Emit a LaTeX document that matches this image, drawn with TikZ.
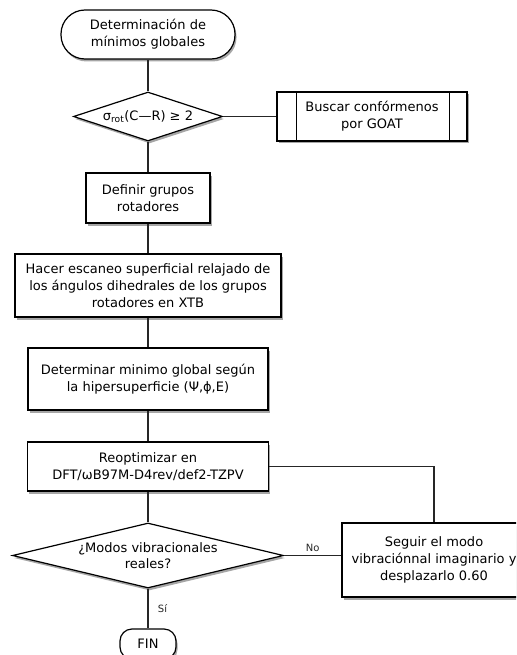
\documentclass[tikz,border=0pt]{standalone}
\usepackage{fontspec}
\setmainfont{DejaVu Sans}
\usetikzlibrary{shapes.geometric,shadows}

\begin{document}
\begin{tikzpicture}[x=1pt, y=-1pt,
    every node/.style={font=\fontsize{13}{16.7}\selectfont, align=center},
    sombra/.style={drop shadow={shadow xshift=1.5pt, shadow yshift=-2.5pt, fill=black!50, opacity=0.7}},
    caja/.style={draw, line width=1.2pt, fill=white, sombra, inner sep=2pt},
    terminal/.style={caja, rounded corners=#1},
    rombo/.style={draw, line width=1.2pt, fill=white, sombra, diamond, inner sep=0pt},
    linea/.style={line width=1.2pt, black!85},
    etiqueta/.style={font=\fontsize{10}{12}\selectfont}]
            \clip (0, 0) rectangle (516, 655);

            \node[terminal=24pt, minimum width=174pt, minimum height=49pt] (inicio) at (148, 34.5) {Determinación de\\mínimos globales};
            \node[rombo, aspect=3, minimum width=149pt, minimum height=49pt] (rot) at (148, 116.5) {σ\textsubscript{rot}(C—R) ≥ 2};
            \node[caja, minimum width=190pt, minimum height=49pt] (goat) at (372, 116.5) {Buscar confórmenos\\por GOAT};
            \draw[line width=1.2pt] ([xshift=20pt]goat.north west) -- ([xshift=20pt]goat.south west);
            \draw[line width=1.2pt] ([xshift=-18pt]goat.north east) -- ([xshift=-18pt]goat.south east);
            \node[caja, minimum width=124pt, minimum height=50pt] (grupos) at (148, 198) {Definir grupos\\rotadores};
            \node[caja, minimum width=266pt, minimum height=63pt] (escaneo) at (148, 285.5) {Hacer escaneo superficial relajado de\\los ángulos dihedrales de los grupos\\rotadores en XTB};
            \node[caja, minimum width=240pt, minimum height=62pt] (minimo) at (148, 379) {Determinar minimo global según\\la hipersuperficie (Ψ,ϕ,E)};
            \node[caja, minimum width=241pt, minimum height=49pt] (reopt) at (148, 466.5) {Reoptimizar en\\DFT/ωB97M-D4rev/def2-TZPV};
            \node[rombo, aspect=4.17, minimum width=271pt, minimum height=65pt] (modos) at (148, 555.5) {¿Modos vibracionales\\reales?};
            \node[caja, minimum width=184pt, minimum height=74pt] (seguir) at (434, 560) {Seguir el modo\\vibraciónnal imaginario y\\desplazarlo 0.60};
            \node[terminal=12pt, minimum width=56pt, minimum height=30pt] (fin) at (148, 644) {FIN};

            \draw[linea] (inicio) -- (rot);
            \draw[linea] (rot) -- (goat);
            \draw[linea] (rot) -- (grupos);
            \draw[linea] (grupos) -- (escaneo);
            \draw[linea] (escaneo) -- (minimo);
            \draw[linea] (minimo) -- (reopt);
            \draw[linea] (reopt) -- (modos);
            \draw[linea] (reopt.east) -| (seguir.north);
            \draw[linea] (modos.east) -- node[etiqueta, above] {No} (modos.east -| seguir.west);
            \draw[linea] (modos) -- node[etiqueta, right, xshift=6pt] {Sí} (fin);
        \end{tikzpicture}
\end{document}
